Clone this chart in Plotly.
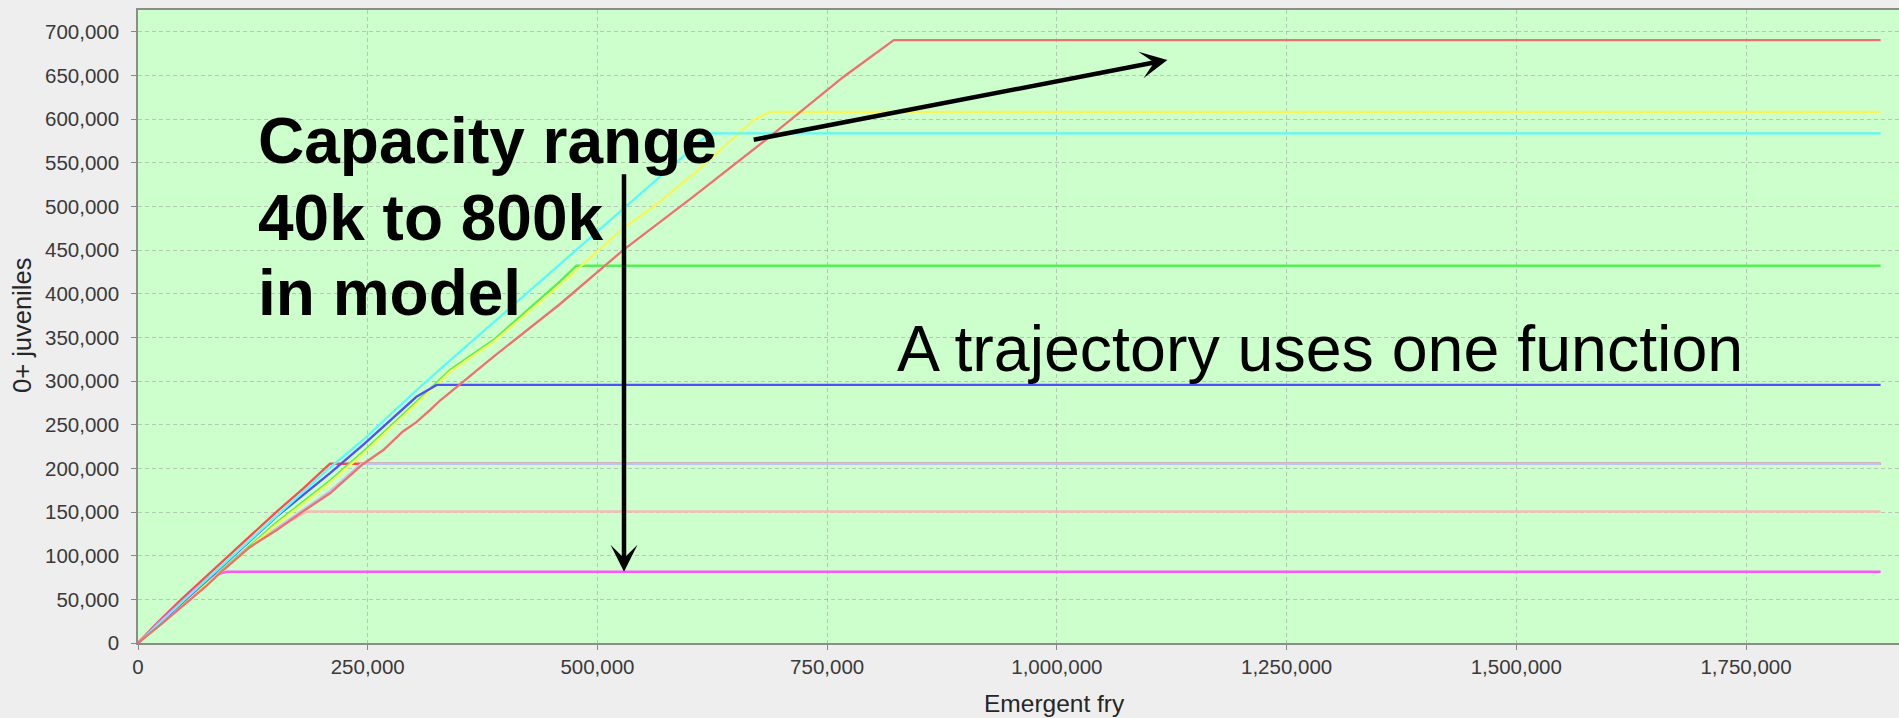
import plotly.graph_objects as go

# Emergent fry (thousands) vs 0+ juveniles (thousands) for each capacity trajectory
red_big_x = [0, 27, 74, 89, 122, 151, 180, 209, 245, 267, 288, 303, 318, 329, 350, 387, 459, 528, 604, 683, 768, 822.5, 1896.5]
red_big_y = [0, 23, 65, 80, 110, 129.5, 151, 171.5, 205, 221, 242, 253, 267, 278, 296, 328, 388, 450, 511, 576, 648.6, 690.6, 690.6]

red_short_x = [0, 20, 46, 78, 100, 125, 151, 180, 209, 1896.5]
red_short_y = [0, 22, 49, 80, 101, 126, 150.5, 177, 205.3, 205.3]

pink_x = [0, 27, 74, 89, 122, 151, 184, 1896.5]
pink_y = [0, 24, 65, 80, 110, 131, 150.6, 150.6]

lavender_x = [0, 27, 74, 89, 122, 151, 180, 209, 243, 1896.5]
lavender_y = [0, 24, 66, 81, 111, 131.5, 153, 174, 205.3, 205.3]

magenta_x = [0, 20, 46, 78, 97, 1896.5]
magenta_y = [0, 21, 46, 76, 81.6, 81.6]

blue_x = [0, 25, 50, 100, 151, 209, 245, 303, 325, 1896.5]
blue_y = [0, 24, 48, 96, 145, 194.5, 227, 282, 295.6, 295.6]

green_x = [0, 25, 50, 100, 151, 209, 245, 303, 340, 387, 459, 477, 1896.5]
green_y = [0, 23, 46, 92, 138, 186, 219, 276, 313, 347, 414, 432.1, 432.1]

yellow_x = [0, 25, 50, 100, 151, 209, 245, 303, 340, 387, 459, 528, 561, 604, 670, 688, 1896.5]
yellow_y = [0, 22, 45, 90, 136, 184, 217, 274, 311, 345, 410, 475, 499.7, 536.4, 599, 608.4, 608.4]

cyan_x = [0, 25, 50, 100, 151, 209, 245, 303, 340, 380, 477, 532, 574, 622, 1896.5]
cyan_y = [0, 25, 49, 97, 146, 201, 232.5, 289.5, 324, 361, 450, 501, 540, 583.8, 583.8]

x_ticks = [0, 250000, 500000, 750000, 1000000, 1250000, 1500000, 1750000]
y_ticks = list(range(0, 700001, 50000))

series = [
    (pink_x, pink_y, "#F4BDB8"),
    (red_short_x, red_short_y, "#FF4B4B"),
    (lavender_x, lavender_y, "#BFC4F2"),
    (magenta_x, magenta_y, "#FF55FF"),
    (green_x, green_y, "#55F055"),
    (yellow_x, yellow_y, "#F6F65A"),
    (blue_x, blue_y, "#5050FA"),
    (cyan_x, cyan_y, "#5AFAFA"),
    (red_big_x, red_big_y, "#F07070"),
]

fig = go.Figure()
for xs, ys, col in series:
    fig.add_trace(go.Scatter(
        x=[v * 1000 for v in xs], y=[v * 1000 for v in ys],
        mode="lines", line=dict(color=col, width=2.3), showlegend=False,
        hoverinfo="skip",
    ))

W, H = 1899, 718
L, R, T, B = 138, 0, 10, 75
XMAX, YMAX = 1916500, 725000
PW, PH = W - L - R, H - T - B


def dx(px):
    return (px - L) / PW * XMAX


def dy(py):
    return (H - B - py) / PH * YMAX


def paper_x(px):
    return (px - L) / PW


def paper_y(py):
    return (H - B - py) / PH


FONT = "Liberation Sans, Arial, sans-serif"
grid = dict(showgrid=True, gridcolor="rgba(150,150,150,0.5)", griddash="4px,3px", gridwidth=1)

fig.update_layout(
    width=W, height=H,
    margin=dict(l=L, r=R, t=T, b=B, pad=0),
    paper_bgcolor="#EEEEEE", plot_bgcolor="#CCFFCC",
    showlegend=False,
    xaxis=dict(
        range=[0, XMAX], tickvals=x_ticks, tickformat=",d",
        ticks="outside", ticklen=5, tickcolor="#888888", tickwidth=1,
        showline=True, linecolor="#8C8C8C", linewidth=1.5, mirror=True,
        zeroline=False, tickfont=dict(family=FONT, size=20.5, color="#3A3A3A"),
        **grid,
    ),
    yaxis=dict(
        range=[0, YMAX], tickvals=y_ticks, tickformat=",d",
        ticks="outside", ticklen=5, tickcolor="#888888", tickwidth=1,
        showline=True, linecolor="#8C8C8C", linewidth=1.5,
        zeroline=False, tickfont=dict(family=FONT, size=20.5, color="#3A3A3A"),
        ticklabelstandoff=8,
        **grid,
    ),
)

annotations = []

# axis titles
annotations.append(dict(
    text="Emergent fry", xref="paper", yref="paper",
    x=paper_x(1054), y=paper_y(703), xanchor="center", yanchor="middle",
    showarrow=False, font=dict(family=FONT, size=24.5, color="#262626"),
))
annotations.append(dict(
    text="0+ juveniles", xref="paper", yref="paper", textangle=-90,
    x=paper_x(22), y=paper_y(326), xanchor="center", yanchor="middle",
    showarrow=False, font=dict(family=FONT, size=25.5, color="#262626"),
))

# callout text
for line, base in [("Capacity range", 163.3), ("40k to 800k", 240.0), ("in model", 315.0)]:
    annotations.append(dict(
        text="<b>%s</b>" % line, xref="paper", yref="paper",
        x=paper_x(258), y=paper_y(base - 22.2), xanchor="left", yanchor="middle",
        showarrow=False, borderpad=0, borderwidth=0,
        font=dict(family=FONT, size=64, color="#000000"),
    ))
annotations.append(dict(
    text="A trajectory uses one function", xref="paper", yref="paper",
    x=paper_x(897), y=paper_y(370.7 - 22.2), xanchor="left", yanchor="middle",
    showarrow=False, borderpad=0, borderwidth=0,
    font=dict(family=FONT, size=64.5, color="#000000"),
))

# arrows
annotations.append(dict(
    text="", xref="x", yref="y", axref="x", ayref="y",
    x=dx(1167.4), y=dy(60), ax=dx(752.2), ay=dy(140),
    showarrow=True, arrowhead=3, arrowsize=1, arrowwidth=4.5, arrowcolor="#000000",
    standoff=0,
))
annotations.append(dict(
    text="", xref="x", yref="y", axref="x", ayref="y",
    x=dx(624), y=dy(571.7), ax=dx(624), ay=dy(172.7),
    showarrow=True, arrowhead=3, arrowsize=1, arrowwidth=4.5, arrowcolor="#000000",
    standoff=0,
))

fig.update_layout(annotations=annotations)
fig.write_html("out.html")
